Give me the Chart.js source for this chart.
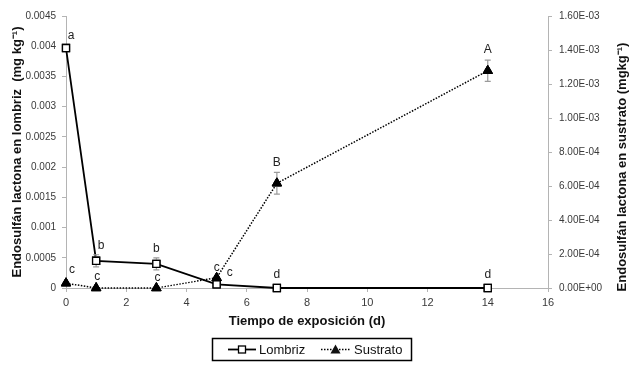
<!DOCTYPE html>
<html>
<head>
<meta charset="utf-8">
<script src="https://cdn.jsdelivr.net/npm/chart.js@4"></script>
<style>
html,body{margin:0;padding:0;background:#fff;}
#wrap{width:636px;height:366px;position:relative;}
</style>
</head>
<body>
<div id="wrap"><canvas id="c" width="636" height="366"></canvas></div>
<script>
// ---- data ----
const days = [0, 1, 3, 5, 7, 14];
const lombriz = [0.00397, 0.00045, 0.0004, 0.00006, 0, 0];
const lombrizErr = [0, 0.0001, 0.0001, 0, 0, 0];
const sustrato = [0.000028, 0, 0, 0.00006, 0.000616, 0.001278];
const sustratoErr = [0, 0, 0, 0, 0.000064, 0.000062];
const lombrizLetters = ['a', 'b', 'b', 'c', 'd', 'd'];
const sustratoLetters = ['c', 'c', 'c', 'c', 'B', 'A'];
const xTickValues = [0, 2, 4, 6, 8, 10, 12, 14, 16];
const yLeftTicks = ['0', '0.0005', '0.001', '0.0015', '0.002', '0.0025', '0.003', '0.0035', '0.004', '0.0045'];
const yRightTicks = ['0.00E+00', '2.00E-04', '4.00E-04', '6.00E-04', '8.00E-04', '1.00E-03', '1.20E-03', '1.40E-03', '1.60E-03'];
const seriesNames = ['Lombriz', 'Sustrato'];
const xTitle = 'Tiempo de exposición (d)';
const yLeftTitle = 'Endosulfán lactona en lombriz  (mg kg⁻¹)';
const yRightTitle = 'Endosulfán lactona en sustrato (mgkg⁻¹)';

const FONT = '"Liberation Sans", Arial, sans-serif';

const toPts = (ys) => days.map((d, i) => ({x: d, y: ys[i]}));

// label offsets (pixel nudges, style only)
const lombrizLabelOff = [[5, -12], [5, -15], [0, -15], [13, -12], [0, -13], [0, -13]];
const sustratoLabelOff = [[6, -14], [1, -11], [1, -10], [0, -10], [0, -21], [0, -21]];

const extras = {
  id: 'extras',
  afterDatasetsDraw(chart) {
    const ctx = chart.ctx;
    const x = chart.scales.x, yL = chart.scales.y, yR = chart.scales.y2;
    ctx.save();
    // error bars
    ctx.strokeStyle = '#9a9a9a';
    ctx.lineWidth = 1.2;
    const drawErr = (vals, errs, sc) => {
      vals.forEach((v, i) => {
        if (!errs[i]) return;
        const px = x.getPixelForValue(days[i]);
        const t = sc.getPixelForValue(v + errs[i]);
        const b = sc.getPixelForValue(v - errs[i]);
        ctx.beginPath();
        ctx.moveTo(px, t); ctx.lineTo(px, b);
        ctx.moveTo(px - 3, t); ctx.lineTo(px + 3, t);
        ctx.moveTo(px - 3, b); ctx.lineTo(px + 3, b);
        ctx.stroke();
      });
    };
    drawErr(lombriz, lombrizErr, yL);
    drawErr(sustrato, sustratoErr, yR);
    // redraw markers over error bars
    chart.getDatasetMeta(0).data.forEach(p => p.draw(ctx));
    chart.getDatasetMeta(1).data.forEach(p => p.draw(ctx));
    // letters
    ctx.fillStyle = '#222';
    ctx.font = '12px ' + FONT;
    ctx.textAlign = 'center';
    ctx.textBaseline = 'middle';
    lombrizLetters.forEach((l, i) => {
      const px = x.getPixelForValue(days[i]);
      const py = yL.getPixelForValue(lombriz[i]);
      ctx.fillText(l, px + lombrizLabelOff[i][0], py + lombrizLabelOff[i][1]);
    });
    sustratoLetters.forEach((l, i) => {
      const px = x.getPixelForValue(days[i]);
      const py = yR.getPixelForValue(sustrato[i]);
      ctx.fillText(l, px + sustratoLabelOff[i][0], py + sustratoLabelOff[i][1]);
    });
    ctx.restore();
  },
  afterDraw(chart) {
    const ctx = chart.ctx;
    ctx.save();
    // right axis title (reads bottom-to-top)
    ctx.fillStyle = '#111';
    ctx.font = 'bold 13px ' + FONT;
    ctx.textAlign = 'center';
    ctx.textBaseline = 'middle';
    ctx.translate(622, 167);
    ctx.rotate(-Math.PI / 2);
    ctx.fillText(yRightTitle, 0, 0);
    ctx.restore();

    // legend box
    ctx.save();
    const bx = 212.5, by = 338.5, bw = 199, bh = 22;
    ctx.strokeStyle = '#000';
    ctx.lineWidth = 1.5;
    ctx.strokeRect(bx, by, bw, bh);
    const cy = by + bh / 2;
    ctx.font = '13px ' + FONT;
    ctx.textBaseline = 'middle';
    ctx.textAlign = 'left';
    ctx.fillStyle = '#111';
    // Lombriz
    ctx.lineWidth = 1.8;
    ctx.setLineDash([]);
    ctx.beginPath(); ctx.moveTo(228, cy); ctx.lineTo(256, cy); ctx.stroke();
    ctx.fillStyle = '#fff';
    ctx.fillRect(238.5, cy - 3.5, 7, 7);
    ctx.lineWidth = 1.3;
    ctx.strokeRect(238.5, cy - 3.5, 7, 7);
    ctx.fillStyle = '#111';
    ctx.fillText(seriesNames[0], 259, cy + 0.5);
    // Sustrato
    ctx.lineWidth = 1.5;
    ctx.setLineDash([1.5, 1.5]);
    ctx.beginPath(); ctx.moveTo(321, cy); ctx.lineTo(350, cy); ctx.stroke();
    ctx.setLineDash([]);
    ctx.beginPath();
    ctx.moveTo(335.5, cy - 5); ctx.lineTo(340.5, cy + 4); ctx.lineTo(330.5, cy + 4); ctx.closePath();
    ctx.fill();
    ctx.fillText(seriesNames[1], 354, cy + 0.5);
    ctx.restore();
  }
};

const tickFont = {family: FONT, size: 10};
const tickColor = '#3a3a3a';
const axisGray = '#b4b4b4';

new Chart(document.getElementById('c'), {
  type: 'line',
  data: {
    datasets: [
      {
        label: seriesNames[0],
        data: toPts(lombriz),
        yAxisID: 'y',
        borderColor: '#000',
        borderWidth: 1.8,
        pointStyle: 'rect',
        pointRadius: 5,
        pointBackgroundColor: '#fff',
        pointBorderColor: '#000',
        pointBorderWidth: 1.3,
        tension: 0,
        clip: false,
        order: 0
      },
      {
        label: seriesNames[1],
        data: toPts(sustrato),
        yAxisID: 'y2',
        borderColor: '#000',
        borderWidth: 1.5,
        borderDash: [1.5, 1.5],
        pointStyle: 'triangle',
        pointRadius: 5.5,
        pointBackgroundColor: '#000',
        pointBorderColor: '#000',
        pointBorderWidth: 1,
        tension: 0,
        clip: false,
        order: 1
      }
    ]
  },
  options: {
    responsive: false,
    animation: false,
    devicePixelRatio: 1,
    layout: {padding: {top: 16, bottom: 30, left: 0, right: 0}},
    plugins: {legend: {display: false}, tooltip: {enabled: false}},
    scales: {
      x: {
        type: 'linear',
        min: 0, max: 16,
        afterBuildTicks: (s) => { s.ticks = xTickValues.map(v => ({value: v})); },
        afterFit: (s) => { s.height = 48; },
        ticks: {font: {family: FONT, size: 11}, color: tickColor, padding: 4, maxRotation: 0},
        grid: {display: true, drawOnChartArea: false, tickLength: 4, color: axisGray},
        border: {color: axisGray, width: 1},
        title: {display: true, text: xTitle, font: {family: FONT, size: 13, weight: 'bold'}, color: '#111', padding: {top: 0, bottom: 7}}
      },
      y: {
        type: 'linear', position: 'left',
        min: 0, max: 0.0045,
        afterBuildTicks: (s) => { s.ticks = yLeftTicks.map(t => ({value: parseFloat(t)})); },
        afterFit: (s) => { s.width = 66; },
        ticks: {font: tickFont, color: tickColor, padding: 6,
          callback: (v, i) => yLeftTicks[i]},
        grid: {display: true, drawOnChartArea: false, tickLength: 4, color: axisGray},
        border: {color: axisGray, width: 1},
        title: {display: true, text: yLeftTitle, font: {family: FONT, size: 13, weight: 'bold'}, color: '#111', padding: {top: 10, bottom: 0}}
      },
      y2: {
        type: 'linear', position: 'right',
        min: 0, max: 0.0016,
        afterBuildTicks: (s) => { s.ticks = yRightTicks.map(t => ({value: parseFloat(t)})); },
        afterFit: (s) => { s.width = 88; },
        ticks: {font: tickFont, color: tickColor, padding: 7,
          callback: (v, i) => yRightTicks[i]},
        grid: {display: true, drawOnChartArea: false, tickLength: 4, color: axisGray},
        border: {color: axisGray, width: 1}
      }
    }
  },
  plugins: [extras]
});
</script>
</body>
</html>
